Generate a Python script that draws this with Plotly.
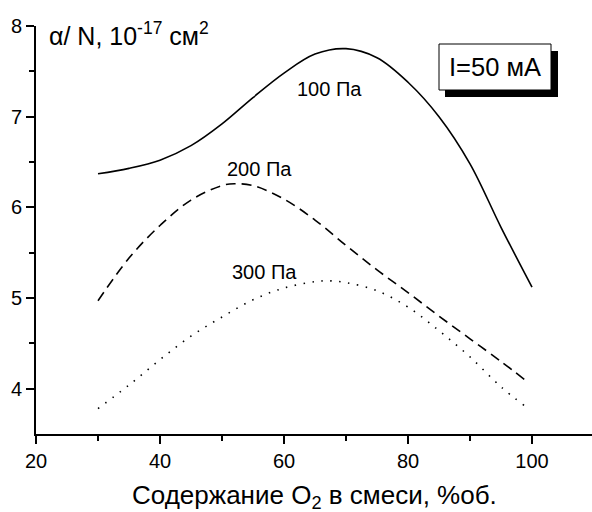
import plotly.graph_objects as go

# Data
x_100 = [30, 35, 40, 45, 50, 55, 60, 65, 70, 75, 80, 85, 90, 95, 100]
y_100 = [6.37, 6.43, 6.52, 6.68, 6.92, 7.21, 7.48, 7.69, 7.75, 7.65, 7.38, 7.00, 6.48, 5.78, 5.12]

x_200 = [30, 35, 40, 45, 50, 52, 55, 60, 65, 70, 75, 80, 85, 90, 95, 99]
y_200 = [4.97, 5.44, 5.80, 6.08, 6.24, 6.26, 6.24, 6.09, 5.86, 5.58, 5.31, 5.06, 4.80, 4.55, 4.30, 4.09]

x_300 = [30, 35, 40, 45, 50, 55, 60, 65, 67, 70, 75, 80, 85, 90, 95, 99]
y_300 = [3.78, 4.04, 4.32, 4.58, 4.79, 4.98, 5.11, 5.18, 5.19, 5.17, 5.08, 4.90, 4.64, 4.35, 4.02, 3.80]

series_labels = ["100 Па", "200 Па", "300 Па"]
x_ticks = [20, 40, 60, 80, 100]
y_ticks = [4, 5, 6, 7, 8]

FONT = "Liberation Sans, Arial, sans-serif"

# plot-area geometry (pixels)
L, R, T, B = 36, 0, 26, 78
PW, PH = 592 - L - R, 512 - T - B


def px(xp):
    return (xp - L) / PW


def py(yp):
    return (512 - B - yp) / PH


fig = go.Figure()
fig.add_trace(go.Scatter(x=x_100, y=y_100, mode="lines",
                         line=dict(color="black", width=1.6, shape="spline"),
                         showlegend=False, hoverinfo="skip"))
fig.add_trace(go.Scatter(x=x_200, y=y_200, mode="lines",
                         line=dict(color="black", width=1.6, shape="spline", dash="10px,6px"),
                         showlegend=False, hoverinfo="skip"))
fig.add_trace(go.Scatter(x=x_300, y=y_300, mode="lines",
                         line=dict(color="black", width=1.6, shape="spline", dash="1.5px,7.5px"),
                         showlegend=False, hoverinfo="skip"))

label_pos = [(67.4, 7.31), (56.1, 6.42), (56.9, 5.29)]
for lab, (lx, ly) in zip(series_labels, label_pos):
    fig.add_annotation(x=lx, y=ly, xref="x", yref="y", text=lab, showarrow=False,
                       xanchor="center", yanchor="middle",
                       font=dict(family=FONT, size=20, color="black"))

# y-axis title inside the plot, top-left
fig.add_annotation(x=px(47), y=py(34), xref="paper", yref="paper",
                   xanchor="left", yanchor="middle",
                   text="α/ N, 10<sup>-17</sup> см<sup>2</sup>", showarrow=False,
                   font=dict(family=FONT, size=25, color="black"))

# x-axis title
fig.add_annotation(x=px(314.5), y=py(497), xref="paper", yref="paper",
                   xanchor="center", yanchor="middle",
                   text="Содержание O<sub>2</sub> в смеси, %об.", showarrow=False,
                   font=dict(family=FONT, size=26, color="black"))

# Boxed note with shadow
fig.add_shape(type="rect", xref="paper", yref="paper",
              x0=px(445), x1=px(558), y0=py(97), y1=py(51),
              fillcolor="black", line=dict(color="black", width=0))
fig.add_shape(type="rect", xref="paper", yref="paper",
              x0=px(439), x1=px(551), y0=py(90), y1=py(44),
              fillcolor="white", line=dict(color="black", width=1))
fig.add_annotation(x=px(495), y=py(67), xref="paper", yref="paper",
                   xanchor="center", yanchor="middle",
                   text="I=50 мА", showarrow=False,
                   font=dict(family=FONT, size=25.5, color="black"))

fig.update_layout(
    width=592, height=512,
    margin=dict(l=L, r=R, t=T, b=B, autoexpand=False),
    paper_bgcolor="white", plot_bgcolor="white",
    font=dict(family=FONT, size=20, color="black"),
    hovermode=False,
)
fig.update_xaxes(range=[20, 20 + PW / 6.2], tickvals=x_ticks, ticktext=[str(v) for v in x_ticks],
                 automargin=False,
                 showline=True, linecolor="black", linewidth=2, mirror=False,
                 ticks="outside", ticklen=8, tickwidth=2, tickcolor="black",
                 showgrid=False, zeroline=False,
                 minor=dict(ticks="outside", ticklen=5, tickwidth=2, tickcolor="black",
                            tickvals=[30, 50, 70, 90], showgrid=False),
                 tickfont=dict(family=FONT, size=20, color="black"))
fig.update_yaxes(range=[3.5, 8.0], tickvals=y_ticks, ticktext=[str(v) for v in y_ticks],
                 automargin=False,
                 showline=True, linecolor="black", linewidth=2, mirror=False,
                 ticks="outside", ticklen=8, tickwidth=2, tickcolor="black",
                 showgrid=False, zeroline=False,
                 minor=dict(ticks="outside", ticklen=5, tickwidth=2, tickcolor="black",
                            tickvals=[4.5, 5.5, 6.5, 7.5], showgrid=False),
                 tickfont=dict(family=FONT, size=20, color="black"))

fig.write_html("out.html", config={"displayModeBar": False},
               post_script="document.body.style.margin='0px';document.body.style.overflow='hidden';")
